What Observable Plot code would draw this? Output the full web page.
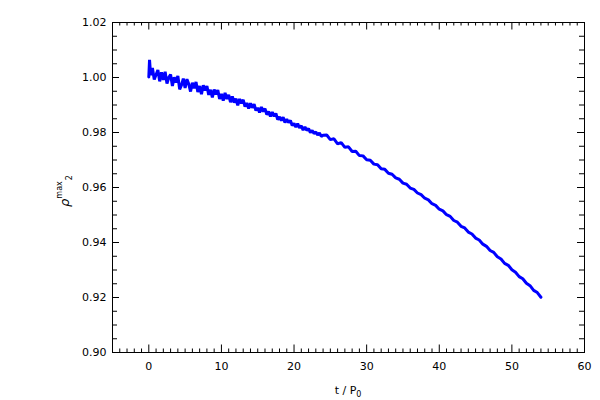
<!DOCTYPE html>
<html>
<head>
<meta charset="utf-8">
<script src="https://cdn.jsdelivr.net/npm/d3@7"></script>
<script src="https://cdn.jsdelivr.net/npm/@observablehq/plot@0.6"></script>
<style>
  html, body { margin: 0; padding: 0; background: #fff; }
</style>
</head>
<body>
<div id="chart"></div>
<script>
// Time in units of P0
const tValues = [
  0, 0.1, 0.25, 0.5, 0.75, 1, 1.25, 1.5, 1.75, 2, 2.25, 2.5, 2.75, 3, 3.25, 3.5, 3.75,
  4, 4.25, 4.5, 4.75, 5, 5.25, 5.5, 5.75, 6, 6.25, 6.5, 6.75, 7, 7.25, 7.5, 7.75,
  8, 8.25, 8.5, 8.75, 9, 9.25, 9.5, 9.75, 10, 10.25, 10.5, 10.75, 11, 11.25, 11.5, 11.75,
  12, 12.25, 12.5, 12.75, 13, 13.25, 13.5, 13.75, 14, 14.25, 14.5, 14.75, 15, 15.25, 15.5, 15.75,
  16, 16.25, 16.5, 16.75, 17, 17.25, 17.5, 17.75, 18, 18.25, 18.5, 18.75, 19, 19.25, 19.5, 19.75,
  20, 20.25, 20.5, 20.75, 21, 21.25, 21.5, 21.75, 22, 22.25, 22.5, 22.75, 23, 23.25, 23.5, 23.75, 24,
  24.5, 25, 25.5, 26, 26.5, 27, 27.5, 28, 28.5, 29,
  29.5, 30, 30.5, 31, 31.5, 32, 32.5, 33, 33.5, 34,
  34.5, 35, 35.5, 36, 36.5, 37, 37.5, 38, 38.5, 39,
  39.5, 40, 40.5, 41, 41.5, 42, 42.5, 43, 43.5, 44,
  44.5, 45, 45.5, 46, 46.5, 47, 47.5, 48, 48.5, 49,
  49.5, 50, 50.5, 51, 51.5, 52, 52.5, 53, 53.5, 54
];
// rho^max_2 values
const rhoValues = [
  1.0002, 1.0064, 1.0009, 1.0035, 0.9993, 1.0010, 1.0027, 0.9986, 1.0019, 0.9991, 1.0021, 0.9978, 1.0000, 1.0011, 0.9969, 1.0001, 0.9982,
  1.0006, 0.9957, 0.9972, 0.9996, 0.9962, 0.9994, 0.9976, 0.9949, 0.9981, 0.9961, 0.9984, 0.9947, 0.9969, 0.9939, 0.9972, 0.9953,
  0.9969, 0.9937, 0.9955, 0.9928, 0.9956, 0.9938, 0.9954, 0.9922, 0.9940, 0.9916, 0.9944, 0.9922, 0.9937, 0.9910, 0.9931, 0.9909,
  0.9923, 0.9899, 0.9922, 0.9906, 0.9919, 0.9894, 0.9907, 0.9887, 0.9906, 0.9890, 0.9903, 0.9880, 0.9890, 0.9873, 0.9893, 0.9876,
  0.9887, 0.9865, 0.9876, 0.9858, 0.9874, 0.9859, 0.9869, 0.9847, 0.9857, 0.9843, 0.9856, 0.9836, 0.9848, 0.9836, 0.9844, 0.9825,
  0.9833, 0.9820, 0.9832, 0.9817, 0.9824, 0.9809, 0.9820, 0.9808, 0.9814, 0.9800, 0.9807, 0.9796, 0.9802, 0.9791, 0.9798, 0.9786, 0.9790,
  0.9791, 0.9774, 0.9777, 0.9759, 0.9763, 0.9746, 0.9748, 0.9731, 0.9732, 0.9716,
  0.9715, 0.9701, 0.9699, 0.9685, 0.9683, 0.9668, 0.9666, 0.9652, 0.9648, 0.9635,
  0.9630, 0.9616, 0.9612, 0.9598, 0.9593, 0.9580, 0.9574, 0.9561, 0.9555, 0.9541,
  0.9535, 0.9521, 0.9515, 0.9501, 0.9495, 0.9480, 0.9474, 0.9459, 0.9453, 0.9438,
  0.9431, 0.9416, 0.9409, 0.9394, 0.9386, 0.9371, 0.9364, 0.9348, 0.9340, 0.9324,
  0.9317, 0.9301, 0.9292, 0.9276, 0.9268, 0.9252, 0.9243, 0.9226, 0.9218, 0.9201
];

const xTickLabels = [0, 10, 20, 30, 40, 50, 60];
const yTickLabels = [0.90, 0.92, 0.94, 0.96, 0.98, 1.00, 1.02];
const xDomain = [-5, 60];
const yDomain = [0.90, 1.02];

const data = tValues.map((t, i) => ({t, rho: rhoValues[i]}));

const width = 600, height = 400;
const margin = {top: 22, right: 16, bottom: 48, left: 112};
const W = width - margin.left - margin.right;
const H = height - margin.top - margin.bottom;

const xMinor = d3.range(-4, 60, 1).filter(v => v % 10 !== 0);
const yMinor = d3.range(0, 24).map(i => +(0.905 + i * 0.005).toFixed(3))
  .filter(v => v < 1.02 && Math.round(v * 1000) % 20 !== 0);

const black = "black";
const chart = Plot.plot({
  width, height,
  marginTop: margin.top, marginRight: margin.right,
  marginBottom: margin.bottom, marginLeft: margin.left,
  style: {fontFamily: "DejaVu Sans, sans-serif", fontSize: "11px", background: "white", color: "black"},
  x: {domain: xDomain},
  y: {domain: yDomain},
  marks: [
    Plot.axisX(xTickLabels, {tickSize: 0, tickPadding: 10, label: null, tickFormat: d => String(d)}),
    Plot.axisY(yTickLabels, {tickSize: 0, tickPadding: 6, label: null, tickFormat: d3.format(".2f")}),
    // inward major / minor ticks on all four sides
    Plot.tickX(xTickLabels, {x: d => d, insetTop: H - 7.5, stroke: black}),
    Plot.tickX(xTickLabels, {x: d => d, insetBottom: H - 7.5, stroke: black}),
    Plot.tickX(xMinor, {x: d => d, insetTop: H - 3.5, stroke: black}),
    Plot.tickX(xMinor, {x: d => d, insetBottom: H - 3.5, stroke: black}),
    Plot.tickY(yTickLabels, {y: d => d, insetRight: W - 7, stroke: black}),
    Plot.tickY(yTickLabels, {y: d => d, insetLeft: W - 7, stroke: black}),
    Plot.tickY(yMinor, {y: d => d, insetRight: W - 5, stroke: black}),
    Plot.tickY(yMinor, {y: d => d, insetLeft: W - 5, stroke: black}),
    Plot.line(data, {x: "t", y: "rho", stroke: "#0000ff", strokeWidth: 3, strokeLinejoin: "miter"}),
    Plot.frame({stroke: black})
  ]
});

const svg = d3.select(chart);
// x-axis title: t / P0
const xt = svg.append("text")
  .attr("x", margin.left + W / 2)
  .attr("y", 394)
  .attr("text-anchor", "middle")
  .attr("font-family", "DejaVu Sans, sans-serif")
  .attr("font-size", 11)
  .attr("fill", "black");
xt.append("tspan").text("t / P");
xt.append("tspan").attr("font-size", 8).attr("dy", 3).text("0");

// y-axis title: rho^max_2
const yt = svg.append("text")
  .attr("transform", `translate(69,${margin.top + H / 2 + 4}) rotate(-90)`)
  .attr("text-anchor", "middle")
  .attr("font-family", "DejaVu Sans, sans-serif")
  .attr("font-size", 13)
  .attr("fill", "black");
yt.append("tspan").attr("font-style", "italic").text("ρ");
yt.append("tspan").attr("font-size", 8).attr("dy", -7).text("max");
yt.append("tspan").attr("font-size", 8).attr("dy", 10).attr("dx", 1).text("2");

document.getElementById("chart").appendChild(chart);
</script>
</body>
</html>
